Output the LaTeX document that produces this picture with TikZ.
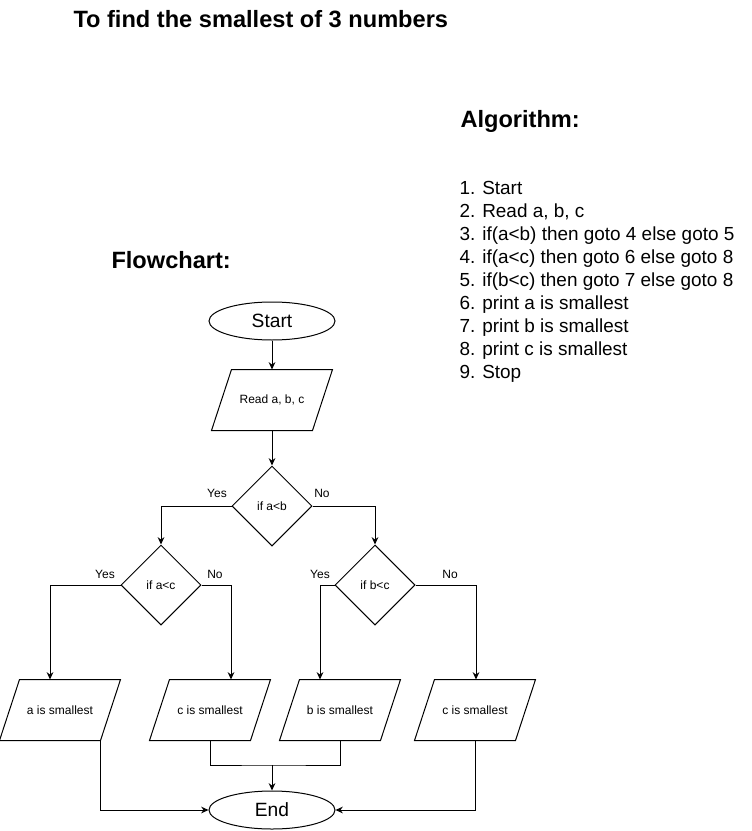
\documentclass[tikz,border=0pt]{standalone}
\usepackage{fontspec}
\setmainfont{Liberation Sans}
\usetikzlibrary{arrows.meta, calc, shapes.geometric}

% slanted outline round a plain box node (100 x 60 px box, 20 px slant)
\newcommand{\ioshape}[1]{%
  \draw ($(#1.south west)+(-10,0)$) -- ($(#1.north west)+(10,0)$)
     -- ($(#1.north east)+(10,0)$) -- ($(#1.south east)+(-10,0)$) -- cycle;}

\tikzset{
  heading/.style={font=\fontsize{17.7}{21}\selectfont\bfseries, inner sep=0pt},
  startstop/.style={ellipse, draw, minimum width=94.5pt, minimum height=28.5pt,
    inner sep=0pt, font=\fontsize{14.4}{17}\selectfont},
  io/.style={rectangle, minimum width=75pt, minimum height=45pt,
    inner sep=0pt, font=\fontsize{9}{11}\selectfont},
  decision/.style={diamond, draw, aspect=1, minimum width=60pt, minimum height=60pt,
    inner sep=0pt, font=\fontsize{9}{11}\selectfont},
  lbl/.style={font=\fontsize{9}{11}\selectfont, inner sep=0pt},
  arr/.style={-{Stealth[length=5.5pt,width=5pt]}}
}

\begin{document}
\begin{tikzpicture}[x=0.75pt, y=-0.75pt, line width=0.75pt]

      \useasboundingbox (0,0) rectangle (751,831);

      % headings
      \node[heading, anchor=base west] (ttl) at (73,28) {To find the smallest of 3 numbers};
      \node[heading, anchor=base west] (algo) at (460,128) {Algorithm:};
      \node[heading, anchor=base west] (flow) at (111,268) {Flowchart:};

      \node[anchor=north west, align=left, inner sep=0pt,
        font=\fontsize{14.2}{17.2}\selectfont] (steps) at (459,181)
        {1. Start\\ 2. Read a, b, c\\ 3. if(a<b) then goto 4 else goto 5\\
         4. if(a<c) then goto 6 else goto 8\\ 5. if(b<c) then goto 7 else goto 8\\
         6. print a is smallest\\ 7. print b is smallest\\ 8. print c is smallest\\
         9. Stop};

      % flowchart
      \node[startstop] (start) at (272,321) {Start};
      \node[io] (read) at (272,400) {Read a, b, c};
      \node[decision] (ifab) at (272,506) {if a<b};
      \node[decision] (ifac) at (161,585) {if a<c};
      \node[decision] (ifbc) at (375,585) {if b<c};
      \node[io] (asm) at (60,710) {a is smallest};
      \node[io] (csm) at (210,710) {c is smallest};
      \node[io] (bsm) at (340,710) {b is smallest};
      \node[io] (csmb) at (475,710) {c is smallest};
      \node[startstop] (end) at (272,810) {End};

      \ioshape{read} \ioshape{asm} \ioshape{csm} \ioshape{bsm} \ioshape{csmb}

      \coordinate (ka) at (50,585);
      \coordinate (kc) at (231,585);
      \coordinate (kb) at (320,585);
      \coordinate (kd) at (476,585);
      \coordinate (mj) at (272,765);
      \coordinate (ae) at ($(asm.south east)+(-10,0)$);

      \draw[arr] (start) -- (read);
      \draw[arr] (read) -- (ifab);
      \draw[arr] (ifab.west) -| (ifac.north);
      \draw[arr] (ifab.east) -| (ifbc.north);
      \draw[arr] (ifac.west) -- (ka) -- (ka |- asm.north);
      \draw[arr] (ifac.east) -- (kc) -- (kc |- csm.north);
      \draw[arr] (ifbc.west) -- (kb) -- (kb |- bsm.north);
      \draw[arr] (ifbc.east) -- (kd) -- (kd |- csmb.north);
      \draw[arr] (ae) |- (end.west);
      \draw[arr] (csmb.south) |- (end.east);
      \draw (csm.south) |- (mj) -| (bsm.south);
      \draw[arr] (mj) -- (end);

      \node[lbl] (yab) at (217,493) {Yes};
      \node[lbl] (nab) at (322,493) {No};
      \node[lbl] (yac) at (105,574) {Yes};
      \node[lbl] (nac) at (215,574) {No};
      \node[lbl] (ybc) at (320,574) {Yes};
      \node[lbl] (nbc) at (450,574) {No};

    \end{tikzpicture}
\end{document}
